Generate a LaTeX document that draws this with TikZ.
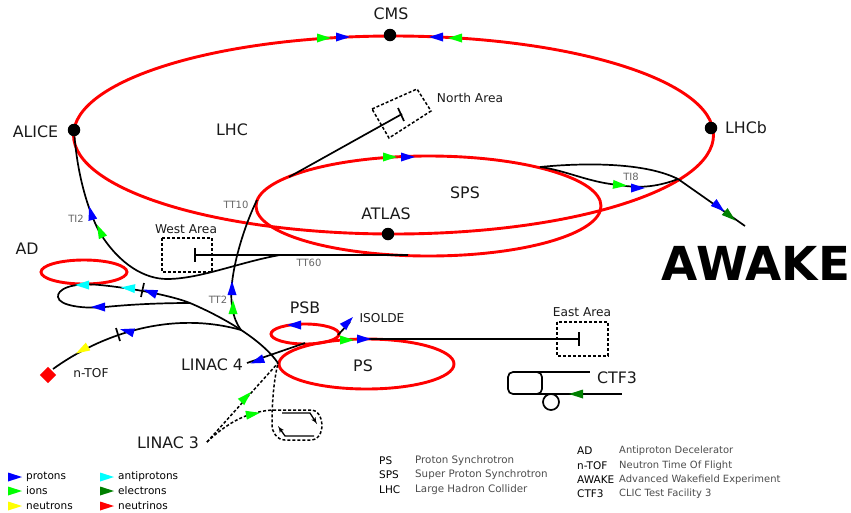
\documentclass[tikz,border=0pt]{standalone}
\usepackage{fontspec}
\setmainfont{DejaVu Sans}
\usetikzlibrary{arrows}

\begin{document}
\begin{tikzpicture}[x=1pt,y=-1pt,>=latex']
  \tikzstyle{ring}=[draw=red,line width=2.9pt]
  \tikzstyle{beam}=[draw=black,line width=1.7pt]
  \tikzstyle{thin beam}=[draw=black,line width=1.3pt]
  \tikzstyle{area}=[draw=black,line width=1.5pt,dash pattern=on 3pt off 2pt]
  \tikzstyle{point}=[circle,fill=black,inner sep=0pt,minimum size=12.5pt]
  \tikzstyle{big}=[inner sep=0pt,text=black!90,font=\fontsize{15.8}{15.8}\selectfont]
  \tikzstyle{small}=[inner sep=0pt,text=black!90,font=\fontsize{12.2}{12.2}\selectfont]
  \tikzstyle{line name}=[inner sep=0pt,text=black!60,font=\fontsize{10}{10}\selectfont]
  \tikzstyle{legend}=[inner sep=0pt,anchor=west,text=black,font=\fontsize{10.5}{10.5}\selectfont]
  \tikzstyle{gloss}=[inner sep=0pt,anchor=west,text=black!70,font=\fontsize{10.3}{10.3}\selectfont]
  \tikzstyle{gloss two}=[inner sep=0pt,anchor=west,text=black!70,font=\fontsize{9.95}{9.95}\selectfont]

\definecolor{proton}{RGB}{0,0,255}
\definecolor{ion}{RGB}{0,255,0}
\definecolor{neutron}{RGB}{255,255,0}
\definecolor{antiproton}{RGB}{0,255,255}
\definecolor{electron}{RGB}{0,128,0}
\definecolor{neutrino}{RGB}{255,0,0}

\newcommand{\arw}[4]{
  \fill [#4,shift={(#1,#2)},rotate=#3] (-7,-4.5) -- (7,0) -- (-7,4.5) -- cycle;
}

\useasboundingbox (0,0) rectangle (851,512);

% rings
\draw [ring] (393.5,135) ellipse [x radius=320pt, y radius=99pt];
\draw [ring] (428.5,206) ellipse [x radius=172.5pt, y radius=50pt];
\draw [ring] (366.5,364) ellipse [x radius=87.5pt, y radius=25pt];
\draw [ring] (305,334) ellipse [x radius=34pt, y radius=10pt];
\draw [ring] (84,272) ellipse [x radius=43pt, y radius=12pt];

\foreach \n/\x/\y in {cms/390/35, alice/74/130, lhcb/711/128, atlas/388/234} {
  \node [point] (\n) at (\x,\y) {};
}

\coordinate (junction) at (278,363);
\coordinate (fork) at (241,330);
\coordinate (split) at (190,303);
\coordinate (linac3) at (207,442);
\coordinate (ti8start) at (540,167);
\coordinate (ti8join) at (678,179);
\coordinate (spsend) at (408,255);

% transfer lines
\draw [beam] (alice) .. controls (78,180) and (90,215) .. (100,233) .. controls (120,265) and (145,279) .. (167,279) .. controls (200,279) and (240,262) .. (280,255);
\draw [beam] (195,255) -- (spsend);
\draw [beam] (fork) .. controls (232,318) and (230,300) .. (232,283) .. controls (235,255) and (247,220) .. (257,200);
\draw [beam] (junction) .. controls (262,340) and (225,318) .. (split) .. controls (170,295) and (130,288) .. (100,285) .. controls (70,282) and (57,290) .. (58,297) .. controls (59,306) and (85,309) .. (105,307) .. controls (135,304) and (165,303) .. (split);
\draw [beam] (fork) .. controls (170,310) and (100,335) .. (53,369);
\draw [beam] (ti8start) .. controls (570,164) and (640,160) .. (ti8join);
\draw [beam] (ti8start) .. controls (565,170) and (590,183) .. (620,185) .. controls (640,189) and (660,186) .. (ti8join);
\draw [beam] (ti8join) -- (745,226);
\draw [beam] (289,177) -- (402,114);
\draw [beam] (247,363) -- (305,343);
\draw [beam] (338,335) -- (350,322);
\draw [beam] (364,339) -- (579,339);

% experimental areas
\draw [area] (162,238) rectangle (212,272);
\draw [area] (557,322) rectangle (608,356);
\draw [area] (372,109) -- (417,89) -- (431,111) -- (389,138) -- cycle;
\draw [beam] (195,248) -- (195,262);
\draw [beam] (579,332) -- (579,346);
\draw [beam] (398,108) -- (404,121);
\draw [beam] (141,297) -- (144,283);
\draw [beam] (116,328) -- (120,341);

% linac 3
\draw [area] (linac3) -- (junction);
\draw [area] (linac3) .. controls (225,425) and (245,412) .. (272,410) -- (312,410) .. controls (318,410) and (322,418) .. (322,425) .. controls (322,433) and (318,440) .. (312,440) -- (285,440) .. controls (277,440) and (272,432) .. (272,425) .. controls (272,400) and (274,380) .. (junction);
\draw [thin beam,->] (282,413) -- (310,413) -- (317,424);
\draw [thin beam,->] (314,436) -- (285,436) -- (278,426);

% ctf3
\draw [beam,rounded corners=5pt] (542,372) rectangle (508,394);
\draw [beam] (525,372) -- (590,372);
\draw [beam] (525,394) -- (622,394);
\draw [beam] (551,402) circle (8pt);

\node [fill=red,minimum size=11.5pt,inner sep=0pt,rotate=45] (ntof) at (48,375) {};

% beams
\foreach \x/\y/\a/\c in {343/37/0/proton, 324/38/0/ion, 436/37/180/proton, 455/38/180/ion,
  408/157/0/proton, 390/157/0/ion, 91/213/105/proton, 100/231/115/ion,
  232/288/90/proton, 233/307/90/ion, 638/188/0/proton, 620/185/-5/ion,
  719/207/-40/proton, 730/216/-40/electron, 82/285/180/antiproton, 128/288/175/antiproton,
  150/292/160/proton, 98/307/180/proton, 127/331/165/proton, 82/350/210/neutron,
  257/361/200/proton, 294/325/180/proton, 348/322/45/proton, 347/340/0/ion,
  364/339/0/proton, 246/397/45/ion, 253/414/10/ion, 576/394/180/electron} {
  \arw{\x}{\y}{\a}{\c}
}

% names
\foreach \n/\x/\y/\t in {cmsname/391/14/CMS, alicename/35.5/132/ALICE, lhc/232/130/LHC, lhcbname/746/128/LHCb,
  sps/465/193/SPS, atlasname/386/214/ATLAS, ad/27/249/AD, psb/305/308/PSB, ps/363/366/PS,
  linacfour/212/365/LINAC 4, linacthree/168/443/LINAC 3, ctf/617/378/CTF3} {
  \node [big] (\n) at (\x,\y) {\t};
}
\foreach \n/\x/\y/\t in {isolde/382/318/ISOLDE, ntofname/91/373/n-TOF, west/186/229/West Area,
  north/470/98/North Area, east/582/312/East Area} {
  \node [small] (\n) at (\x,\y) {\t};
}
\foreach \n/\x/\y/\t in {tt10/236/205/TT10, tt60/309/263/TT60, tt2/218/300/TT2, ti2/76/219/TI2, ti8/631/177/TI8} {
  \node [line name] (\n) at (\x,\y) {\t};
}
\node [inner sep=0pt,font=\fontsize{46.8}{46.8}\selectfont\bfseries] (awake) at (756,263) {AWAKE};

% legend
\foreach \x/\y/\c/\t in {15/477/proton/protons, 15/491/ion/ions, 15/506/neutron/neutrons,
  107/477/antiproton/antiprotons, 107/491/electron/electrons, 107/506/neutrino/neutrinos} {
  \arw{\x}{\y}{0}{\c}
  \node [legend] (key\t) at (\x+11,\y) {\t};
}
\foreach \y/\a/\t in {461/PS/Proton Synchrotron, 475/SPS/Super Proton Synchrotron, 490/LHC/Large Hadron Collider} {
  \node [legend] (abbr\a) at (379,\y) {\a};
  \node [gloss] (gloss\a) at (415,\y) {\t};
}
\foreach \y/\a/\t in {451/AD/Antiproton Decelerator, 466/n-TOF/Neutron Time Of Flight,
  480/AWAKE/Advanced Wakefield Experiment, 494/CTF3/CLIC Test Facility 3} {
  \node [legend] (abbr\a) at (577,\y) {\a};
  \node [gloss two] (gloss\a) at (619,\y) {\t};
}
\end{tikzpicture}
\end{document}
